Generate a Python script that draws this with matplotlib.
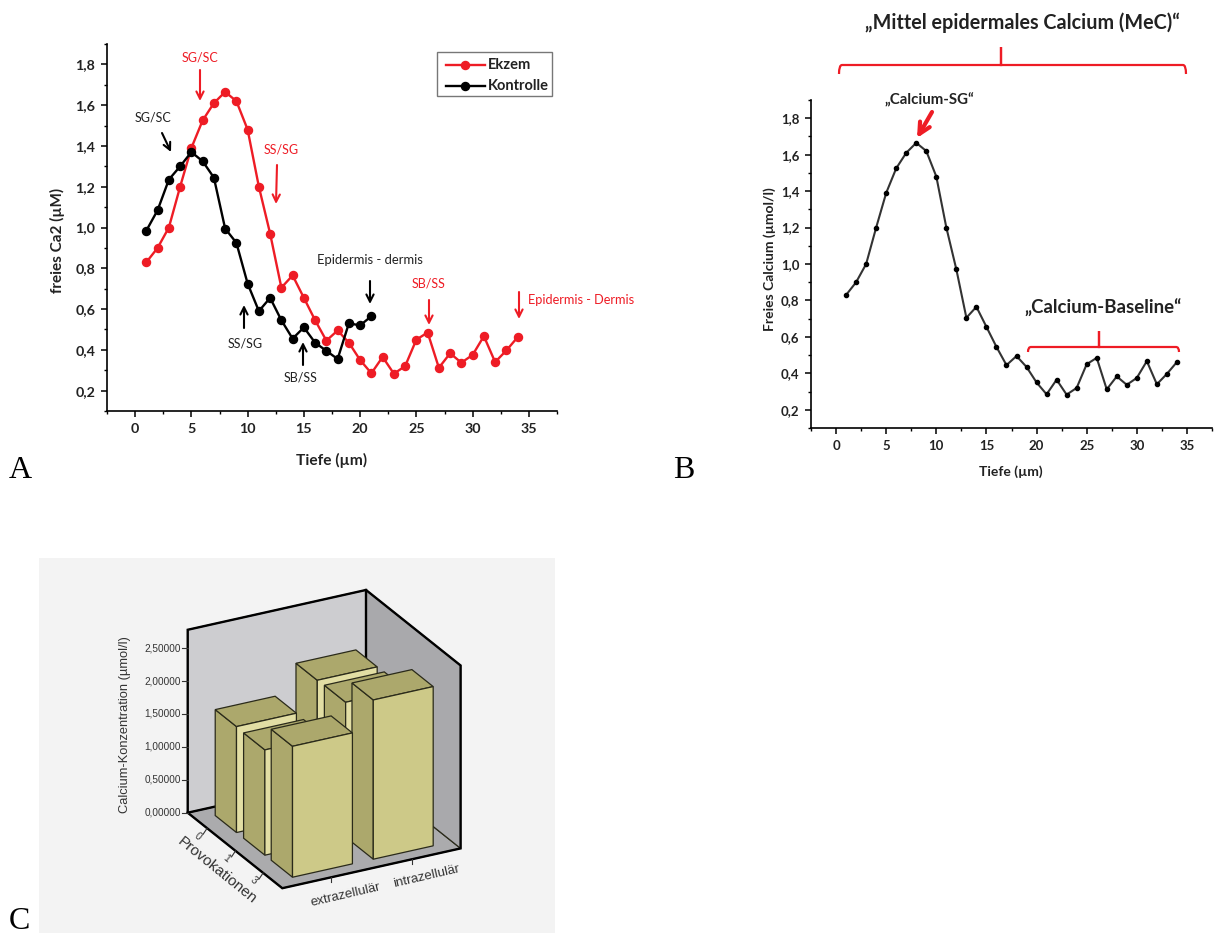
import matplotlib
matplotlib.use('Agg')
import matplotlib.pyplot as plt
from matplotlib.patches import Polygon, Rectangle, PathPatch
from matplotlib.path import Path

depth_ekzem = list(range(1, 35))
ekzem = [0.83, 0.90, 1.00, 1.20, 1.39, 1.525, 1.61, 1.665, 1.62, 1.48, 1.20, 0.97,
         0.705, 0.765, 0.655, 0.545, 0.445, 0.495, 0.435, 0.35, 0.285, 0.365, 0.283,
         0.32, 0.45, 0.485, 0.312, 0.383, 0.337, 0.375, 0.467, 0.34, 0.397, 0.462]
depth_kontrolle = list(range(1, 22))
kontrolle = [0.985, 1.085, 1.235, 1.30, 1.37, 1.325, 1.245, 0.995, 0.925, 0.725, 0.59,
             0.655, 0.545, 0.455, 0.51, 0.435, 0.395, 0.355, 0.53, 0.52, 0.565]

x_ticks = [0, 5, 10, 15, 20, 25, 30, 35]
y_ticks = [0.2, 0.4, 0.6, 0.8, 1.0, 1.2, 1.4, 1.6, 1.8]
y_tick_labels = ['0,2', '0,4', '0,6', '0,8', '1,0', '1,2', '1,4', '1,6', '1,8']

provokationen = ['0', '1', '3']
kompartimente = ['extrazellulär', 'intrazellulär']
extrazellulaer = [1.61, 1.60, 1.99]
intrazellulaer = [2.04, 2.05, 2.42]
z_ticks = [0.0, 0.5, 1.0, 1.5, 2.0, 2.5]
z_tick_labels = ['0,00000', '0,50000', '1,00000', '1,50000', '2,00000', '2,50000']

W, H = 1214, 933
CALIBRI = 'Lato'
RED = '#ee1c25'
fig = plt.figure(figsize=(W / 100, H / 100), dpi=100)


def add_panel(left, top, right, bottom, tick_size):
    ax = fig.add_axes([left / W, 1 - bottom / H, (right - left) / W, (bottom - top) / H])
    ax.set_xlim(-2.5, 37.5)
    ax.set_ylim(0.1, 1.9)
    ax.spines['top'].set_visible(False)
    ax.spines['right'].set_visible(False)
    ax.spines['left'].set_linewidth(1.2)
    ax.spines['bottom'].set_linewidth(1.2)
    ax.set_xticks(x_ticks)
    ax.set_yticks(y_ticks)
    ax.set_yticklabels(y_tick_labels)
    ax.set_xticks([-2.5 + 5 * i for i in range(9)], minor=True)
    ax.set_yticks([0.1 + 0.2 * i for i in range(10)], minor=True)
    ax.tick_params(which='major', length=4.5, width=1.1, pad=4, labelsize=tick_size)
    ax.tick_params(which='minor', length=2.5, width=1.0)
    for lab in ax.get_xticklabels() + ax.get_yticklabels():
        lab.set_fontfamily(CALIBRI)
        lab.set_fontweight('bold')
        lab.set_color('#222222')
    return ax


# panel A
ax_a = add_panel(107, 44, 557, 411, 10.3)
ax_a.plot(depth_ekzem, ekzem, color=RED, lw=1.7, marker='o', ms=5.8, label='Ekzem')
ax_a.plot(depth_kontrolle, kontrolle, color='black', lw=1.7, marker='o', ms=5.8, label='Kontrolle')

# panel B
ax_b = add_panel(811, 100, 1212, 428, 9.5)
ax_b.plot(depth_ekzem, ekzem, color='#333333', lw=1.5, marker='o', ms=3,
          markerfacecolor='black', markeredgecolor='black')

# overlay in pixel coordinates for the annotations and the 3D panel
ov = fig.add_axes([0, 0, 1, 1])
ov.set_xlim(0, W)
ov.set_ylim(H, 0)
ov.axis('off')


def label(x, y, s, color='#222222', size=9, weight='normal', family=CALIBRI, ha='center', rotation=0):
    ov.text(x, y, s, color=color, fontsize=size, fontweight=weight, family=family,
            ha=ha, va='center', rotation=rotation, rotation_mode='anchor')


def arrow(x0, y0, x1, y1, color='black', lw=1.5, scale=13):
    ov.annotate('', xy=(x1, y1), xytext=(x0, y0),
                arrowprops=dict(arrowstyle='->', color=color, lw=lw, mutation_scale=scale,
                                shrinkA=0, shrinkB=0))


def bracket(left, right, y, tip_x, tip_y, drop):
    r = 3
    verts = [(left, y + drop), (left, y), (left + r, y), (tip_x - 1, y), (tip_x, y), (tip_x, tip_y),
             (tip_x, y), (tip_x + 1, y), (right - r, y), (right, y), (right, y + drop)]
    codes = [Path.MOVETO, Path.CURVE3, Path.CURVE3, Path.LINETO, Path.LINETO, Path.LINETO,
             Path.LINETO, Path.LINETO, Path.LINETO, Path.CURVE3, Path.CURVE3]
    ov.add_patch(PathPatch(Path(verts, codes), fill=False, edgecolor=RED, lw=1.6))


# axis labels A and B
label(332, 460, 'Tiefe (µm)', size=11.2, weight='bold')
label(57, 240, 'freies Ca2 (µM)', size=11, weight='bold', rotation=90)
label(1011, 472, 'Tiefe (µm)', size=10, weight='bold')
label(770, 259, 'Freies Calcium (µmol/l)', size=10, weight='bold', rotation=90)

# legend of panel A
ov.add_patch(Rectangle((437, 52), 115, 44, fill=False, edgecolor='#777777', lw=1.0))
ov.plot([446, 485], [65, 65], color=RED, lw=1.7)
ov.plot([465], [65], color=RED, marker='o', ms=5.8)
ov.plot([446, 485], [86, 86], color='black', lw=1.7)
ov.plot([465], [86], color='black', marker='o', ms=5.8)
label(488, 65, 'Ekzem', size=10.5, weight='bold', ha='left')
label(488, 86, 'Kontrolle', size=10.5, weight='bold', ha='left')

# annotations of panel A
label(153, 118, 'SG/SC', size=9)
arrow(162, 133, 171, 152)
label(200, 57, 'SG/SC', color=RED, size=9)
arrow(200, 70, 200, 101, color=RED)
label(281, 150, 'SS/SG', color=RED, size=9)
arrow(277, 165, 276, 204, color=RED)
label(370, 260, 'Epidermis - dermis', size=9.4)
arrow(370, 281, 370, 304)
label(429, 284, 'SB/SS', color=RED, size=9)
arrow(429, 300, 429, 325, color=RED)
label(528, 300, 'Epidermis - Dermis', color=RED, size=9.2, ha='left')
arrow(519, 292, 519, 319, color=RED)
label(245, 343, 'SS/SG', size=9)
arrow(244, 328, 244, 305)
label(301, 377, 'SB/SS', size=9)
arrow(303, 365, 303, 342)

# annotations of panel B
label(1022, 23, '„Mittel epidermales Calcium (MeC)“', size=14.2, weight='bold')
bracket(839, 1186, 65, 1001, 47, 9)
label(929, 100, '„Calcium-SG“', size=10.8, weight='bold')
arrow(932, 112, 917, 138, color=RED, lw=3, scale=20)
label(1103, 308, '„Calcium-Baseline“', size=13.4, weight='bold')
bracket(1028, 1179, 347, 1099, 331, 5)

# panel letters
for x, y, s in [(9, 478, 'A'), (673, 478, 'B'), (9, 929, 'C')]:
    ov.text(x, y, s, fontsize=23, family='Liberation Serif', color='black', ha='left', va='baseline')

# panel C, oblique projection of the 3D bars
ov.add_patch(Rectangle((39, 558), 516, 375, facecolor='#f3f3f3', edgecolor='none', zorder=0))
ORIGIN = (187.7, 812.7)
WIDTH_VEC = (178.3, -39.8)
DEPTH_VEC = (94.6, 75.5)
Z_PX = 65.8
Z_TOP = 2.78


def proj(u, v, z=0.0):
    return (ORIGIN[0] + u * WIDTH_VEC[0] + v * DEPTH_VEC[0],
            ORIGIN[1] + u * WIDTH_VEC[1] + v * DEPTH_VEC[1] - z * Z_PX)


def face(points, color, edge='#2a2a1a', lw=0.9, z=1):
    ov.add_patch(Polygon(points, closed=True, facecolor=color, edgecolor=edge, lw=lw, zorder=z))


face([proj(0, 0), proj(1, 0), proj(1, 1), proj(0, 1)], '#ababad', z=1)
face([proj(0, 0), proj(1, 0), proj(1, 0, Z_TOP), proj(0, 0, Z_TOP)], '#cdcdd0', z=1)
face([proj(1, 0), proj(1, 1), proj(1, 1, Z_TOP), proj(1, 0, Z_TOP)], '#a9a9ac', z=1)

col_u = [0.105, 0.558]
row_v = [0.093, 0.393, 0.685]
BAR_DU = 0.336
BAR_DV = 0.225
front_colors = ['#e2dea4', '#e2dea4', '#cdc988']


def bar3d(u, v, h, front):
    u1, v1 = u + BAR_DU, v + BAR_DV
    face([proj(u, v), proj(u, v1), proj(u, v1, h), proj(u, v, h)], '#aca86c', z=2)
    face([proj(u, v, h), proj(u1, v, h), proj(u1, v1, h), proj(u, v1, h)], '#aca86c', z=2)
    face([proj(u, v1), proj(u1, v1), proj(u1, v1, h), proj(u, v1, h)], front, z=2)


for r in range(len(provokationen)):
    bar3d(col_u[1], row_v[r], intrazellulaer[r], front_colors[r])
    bar3d(col_u[0], row_v[r], extrazellulaer[r], front_colors[r])

frame = [proj(0, 0, Z_TOP), proj(1, 0, Z_TOP), proj(1, 1, Z_TOP), proj(1, 1), proj(0, 1), proj(0, 0)]
ov.add_patch(Polygon(frame, closed=True, fill=False, edgecolor='black', lw=1.7, zorder=3))
# back edges, the bars stand in front of them
for a, b in [(proj(1, 0, Z_TOP), proj(1, 0)), (proj(0, 0), proj(1, 0))]:
    ov.plot([a[0], b[0]], [a[1], b[1]], color='black', lw=1.7, zorder=1.5)

for z, lab in zip(z_ticks, z_tick_labels):
    x0, y0 = proj(0, 0, z)
    ov.plot([x0 - 6, x0], [y0, y0], color='#333333', lw=0.8, zorder=3)
    ov.text(x0 - 7, y0, lab, fontsize=7.2, family='Liberation Sans', color='#333333', ha='right', va='center')

for r, lab in enumerate(provokationen):
    x0, y0 = proj(0, row_v[r] + BAR_DV / 2)
    ov.plot([x0 - 4, x0], [y0 + 6, y0], color='#333333', lw=0.8, zorder=3)
    ov.text(x0 - 9, y0 + 8, lab, fontsize=7.5, family='Liberation Sans', color='#333333',
            ha='center', va='center', rotation=-39, rotation_mode='anchor')

for c, lab in enumerate(kompartimente):
    x0, y0 = proj(col_u[c] + BAR_DU / 2, 1)
    ov.plot([x0, x0], [y0, y0 + 5], color='#333333', lw=0.8, zorder=3)
    ov.text(x0 + 15, y0 + 17.5, lab, fontsize=9.5, family='Liberation Sans', color='#333333',
            ha='center', va='center', rotation=13, rotation_mode='anchor')

ov.text(125, 725, 'Calcium-Konzentration (µmol/l)', fontsize=9.3, family='Liberation Sans', color='#333333',
        ha='center', va='center', rotation=90, rotation_mode='anchor')
ov.text(217.5, 870.5, 'Provokationen', fontsize=11, family='Liberation Sans', color='#333333',
        ha='center', va='center', rotation=-39, rotation_mode='anchor')

fig.savefig('out.png', dpi=100)
